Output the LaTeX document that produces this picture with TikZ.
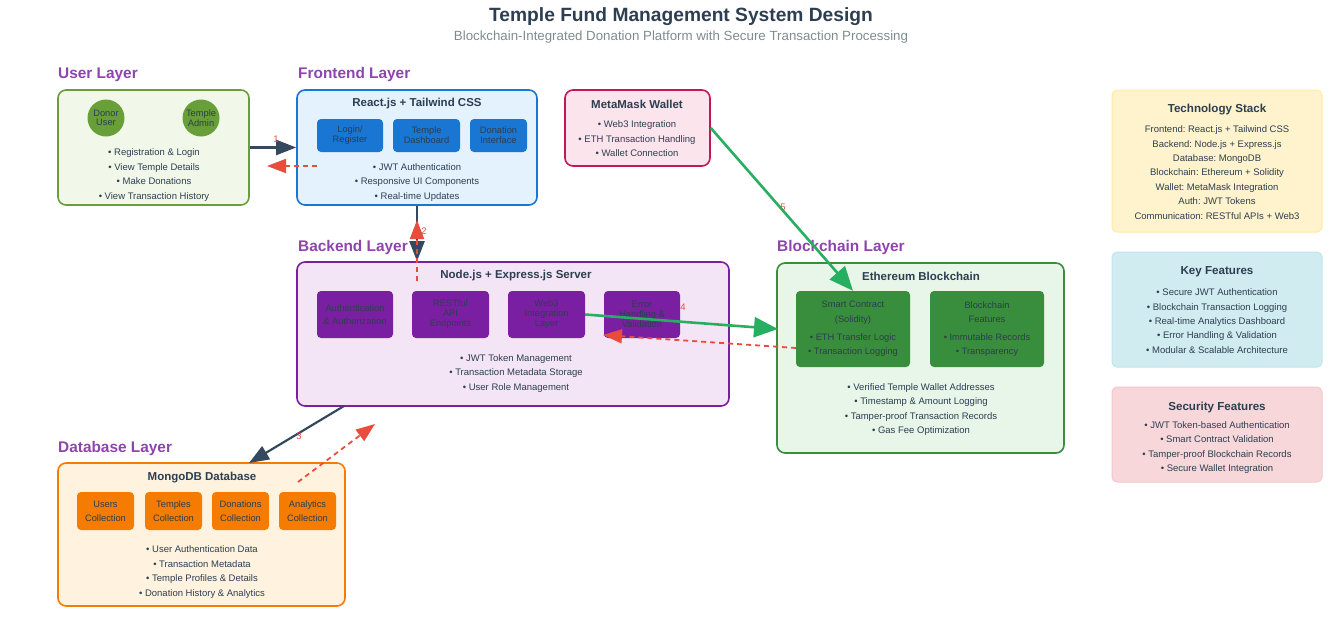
\documentclass[tikz,border=0pt]{standalone}
\usepackage{fontspec}
\setmainfont{Liberation Sans}
\usetikzlibrary{arrows.meta}
\frenchspacing

\definecolor{textdark}{HTML}{2C3E50}
\definecolor{subgray}{HTML}{7F8C8D}
\definecolor{layerpurple}{HTML}{8E44AD}
\definecolor{userfill}{HTML}{F1F8E9}
\definecolor{userline}{HTML}{689F38}
\definecolor{frontfill}{HTML}{E3F2FD}
\definecolor{frontline}{HTML}{1976D2}
\definecolor{metafill}{HTML}{FCE4EC}
\definecolor{metaline}{HTML}{C2185B}
\definecolor{backfill}{HTML}{F3E5F5}
\definecolor{backline}{HTML}{7B1FA2}
\definecolor{chainfill}{HTML}{E8F5E9}
\definecolor{chainline}{HTML}{388E3C}
\definecolor{dbfill}{HTML}{FFF3E0}
\definecolor{dbline}{HTML}{F57C00}
\definecolor{techfill}{HTML}{FFF3CD}
\definecolor{techline}{HTML}{FFEAA7}
\definecolor{keyfill}{HTML}{D1ECF1}
\definecolor{keyline}{HTML}{BEE5EB}
\definecolor{secfill}{HTML}{F8D7DA}
\definecolor{secline}{HTML}{F5C6CB}
\definecolor{arrowdark}{HTML}{34495E}
\definecolor{arrowgreen}{HTML}{27AE60}
\definecolor{arrowred}{HTML}{E74C3C}

\tikzset{
  layer/.style={anchor=west, inner sep=0pt, text=layerpurple,
    font=\bfseries\fontsize{15.4}{17}\selectfont},
  panel/.style={rounded corners=8pt, line width=1.6pt},
  sidepanel/.style={rounded corners=5pt, line width=1pt},
  boxtitle/.style={inner sep=0pt, text=textdark,
    font=\bfseries\fontsize{11.5}{13}\selectfont},
  sidetitle/.style={inner sep=0pt, text=textdark,
    font=\bfseries\fontsize{11.6}{14}\selectfont},
  items/.style={inner sep=0pt, align=center, text=textdark,
    font=\fontsize{9.5}{14.4}\selectfont},
  part/.style={rounded corners=4pt, inner sep=0pt, align=center, text=textdark,
    font=\fontsize{9.3}{10}\selectfont},
  actor/.style={circle, fill=userline, minimum size=37pt, inner sep=0pt,
    align=center, text=textdark, font=\fontsize{9.3}{9.5}\selectfont},
  flow/.style={line width=2.2pt, draw=arrowdark,
    -{Triangle[length=20pt,width=15pt]}},
  greenflow/.style={line width=2.6pt, draw=arrowgreen,
    -{Triangle[length=24pt,width=20pt]}},
  reply/.style={line width=1.8pt, draw=arrowred, dash pattern=on 5pt off 4pt,
    -{Triangle[length=19pt,width=14pt]}},
  numlabel/.style={inner sep=0pt, text=arrowred, font=\fontsize{9.5}{10}\selectfont}
}

\begin{document}
\begin{tikzpicture}[x=1pt,y=-1pt]
\useasboundingbox (0,0) rectangle (1330,624);

% title
\node[font=\bfseries\fontsize{19.2}{21}\selectfont, text=textdark] (title) at (681,17)
  {Temple Fund Management System Design};
\node[font=\fontsize{13.3}{15}\selectfont, text=subgray] (subtitle) at (681,37)
  {Blockchain-Integrated Donation Platform with Secure Transaction Processing};

% user layer
\node[layer] (userlbl) at (58,75) {User Layer};
\node[panel, draw=userline, fill=userfill, minimum width=191pt, minimum height=115pt]
  (user) at (153.5,147.5) {};
\node[actor] (donor) at (106,118) {Donor\\User};
\node[actor] (admin) at (201,118) {Temple\\Admin};
\node[items] (useritems) at (154,175) {• Registration \& Login\\• View Temple Details\\
  • Make Donations\\• View Transaction History};

% frontend layer
\node[layer] (frontlbl) at (298,75) {Frontend Layer};
\node[panel, draw=frontline, fill=frontfill, minimum width=240pt, minimum height=115pt]
  (front) at (417,147.5) {};
\node[boxtitle] (fronttitle) at (417,104) {React.js + Tailwind CSS};
\node[part, fill=frontline, minimum width=66pt, minimum height=33pt] (login) at (350,135.5)
  {Login/\\Register};
\node[part, fill=frontline, minimum width=67pt, minimum height=33pt] (dash) at (426.5,135.5)
  {Temple\\Dashboard};
\node[part, fill=frontline, minimum width=57pt, minimum height=33pt] (donate) at (498.5,135.5)
  {Donation\\Interface};
\node[items] (frontitems) at (417,182.5) {• JWT Authentication\\• Responsive UI Components\\
  • Real-time Updates};

% metamask
\node[panel, draw=metaline, fill=metafill, minimum width=145pt, minimum height=76pt]
  (meta) at (637.5,128) {};
\node[boxtitle] (metatitle) at (637,104) {MetaMask Wallet};
\node[items] (metaitems) at (637,139) {• Web3 Integration\\• ETH Transaction Handling\\
  • Wallet Connection};

% backend layer
\node[layer] (backlbl) at (298,248) {Backend Layer};
\node[panel, draw=backline, fill=backfill, minimum width=432pt, minimum height=144pt]
  (back) at (513,334) {};
\node[boxtitle] (backtitle) at (516,276) {Node.js + Express.js Server};
\node[part, fill=backline, minimum width=76pt, minimum height=47pt] (auth) at (355,314.5)
  {Authentication\\[3pt]\& Authorization};
\node[part, fill=backline, minimum width=77pt, minimum height=47pt] (api) at (450.5,314.5)
  {RESTful\\API\\Endpoints};
\node[part, fill=backline, minimum width=77pt, minimum height=47pt] (web3) at (546.5,314.5)
  {Web3\\Integration\\Layer};
\node[part, fill=backline, minimum width=76pt, minimum height=47pt] (error) at (642,314.5)
  {Error\\Handling \&\\Validation};
\node[items] (backitems) at (516,373.5) {• JWT Token Management\\• Transaction Metadata Storage\\
  • User Role Management};

% blockchain layer
\node[layer] (chainlbl) at (777,248) {Blockchain Layer};
\node[panel, draw=chainline, fill=chainfill, minimum width=287pt, minimum height=190pt]
  (chain) at (920.5,358) {};
\node[boxtitle] (chaintitle) at (921,276) {Ethereum Blockchain};
\node[part, fill=chainline, minimum width=114pt, minimum height=76pt,
  font=\fontsize{9.3}{14.6}\selectfont] (smart) at (853,329)
  {Smart Contract\\(Solidity)\\[3pt]• ETH Transfer Logic\\• Transaction Logging};
\node[part, fill=chainline, minimum width=114pt, minimum height=76pt,
  font=\fontsize{9.3}{14.6}\selectfont] (features) at (987,329)
  {Blockchain\\Features\\[3pt]• Immutable Records\\• Transparency};
\node[items] (chainitems) at (921,409.5) {• Verified Temple Wallet Addresses\\
  • Timestamp \& Amount Logging\\• Tamper-proof Transaction Records\\• Gas Fee Optimization};

% database layer
\node[layer] (dblbl) at (58,449) {Database Layer};
\node[panel, draw=dbline, fill=dbfill, minimum width=287pt, minimum height=143pt]
  (db) at (201.5,534.5) {};
\node[boxtitle] (dbtitle) at (202,478) {MongoDB Database};
\node[part, fill=dbline, minimum width=57pt, minimum height=38pt,
  font=\fontsize{9.3}{14}\selectfont] (users) at (105.5,511) {Users\\Collection};
\node[part, fill=dbline, minimum width=57pt, minimum height=38pt,
  font=\fontsize{9.3}{14}\selectfont] (temples) at (173.5,511) {Temples\\Collection};
\node[part, fill=dbline, minimum width=57pt, minimum height=38pt,
  font=\fontsize{9.3}{14}\selectfont] (donations) at (240.5,511) {Donations\\Collection};
\node[part, fill=dbline, minimum width=57pt, minimum height=38pt,
  font=\fontsize{9.3}{14}\selectfont] (analytics) at (307.5,511) {Analytics\\Collection};
\node[items] (dbitems) at (202,572) {• User Authentication Data\\• Transaction Metadata\\
  • Temple Profiles \& Details\\• Donation History \& Analytics};

% side panels
\node[sidepanel, draw=techline, fill=techfill, minimum width=210pt, minimum height=142pt]
  (tech) at (1217,161) {};
\node[sidetitle] (techtitle) at (1217,110) {Technology Stack};
\node[items] (techitems) at (1217,172.5) {Frontend: React.js + Tailwind CSS\\
  Backend: Node.js + Express.js\\Database: MongoDB\\Blockchain: Ethereum + Solidity\\
  Wallet: MetaMask Integration\\Auth: JWT Tokens\\Communication: RESTful APIs + Web3};

\node[sidepanel, draw=keyline, fill=keyfill, minimum width=210pt, minimum height=115pt]
  (key) at (1217,309.5) {};
\node[sidetitle] (keytitle) at (1217,272) {Key Features};
\node[items] (keyitems) at (1217,321) {• Secure JWT Authentication\\
  • Blockchain Transaction Logging\\• Real-time Analytics Dashboard\\
  • Error Handling \& Validation\\• Modular \& Scalable Architecture};

\node[sidepanel, draw=secline, fill=secfill, minimum width=210pt, minimum height=95pt]
  (sec) at (1217,434.5) {};
\node[sidetitle] (sectitle) at (1217,407) {Security Features};
\node[items] (secitems) at (1217,447.5) {• JWT Token-based Authentication\\
  • Smart Contract Validation\\• Tamper-proof Blockchain Records\\
  • Secure Wallet Integration};

% connectors
\coordinate (r1s) at (317,166);
\coordinate (r1t) at (267,166);
\coordinate (r2s) at (417,281);
\coordinate (r2t) at (417,220);
\coordinate (f3s) at (344,406);
\coordinate (f3t) at (249,463);
\coordinate (r3s) at (298,482);
\coordinate (r3t) at (375,424);
\coordinate (f4t) at (778,329);
\coordinate (r4s) at (796,348);
\coordinate (r4t) at (603,335);

\draw[flow] (user.east) -- (front.west);
\draw[reply] (r1s) -- (r1t);
\node[numlabel] (n1) at (276,139) {1};

\draw[flow] (front.south) -- (front.south |- back.north);
\draw[reply] (r2s) -- (r2t);
\node[numlabel] (n2) at (424,231) {2};

\draw[flow] (f3s) -- (f3t);
\draw[reply] (r3s) -- (r3t);
\node[numlabel] (n3) at (299,436) {3};

\draw[greenflow] (web3.east) -- (f4t);
\draw[reply] (r4s) -- (r4t);
\node[numlabel] (n4) at (683,307) {4};

\draw[greenflow] (meta.east) -- (smart.north);
\node[numlabel] (n5) at (783,207) {5};
\end{tikzpicture}
\end{document}
